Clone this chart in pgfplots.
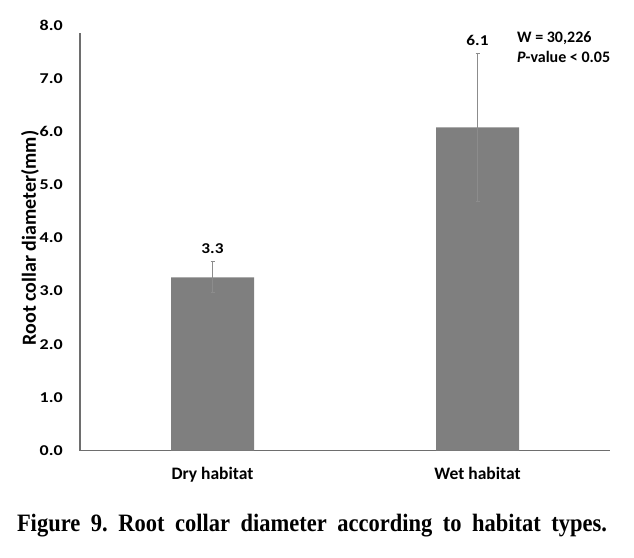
\documentclass[border=0pt]{standalone}
\usepackage{pgfplots}
\pgfplotsset{compat=1.18}
\usepackage{fontspec}
\setmainfont{Carlito}
\newfontfamily\capfont[FakeStretch=0.9]{Liberation Serif}
\definecolor{barc}{HTML}{7F7F7F}
\definecolor{axc}{HTML}{6E6E6E}
\definecolor{errc}{HTML}{8C8C8C}
\begin{document}
\frenchspacing
\begin{tikzpicture}[x=1pt,y=1pt]
\path[use as bounding box] (0,0) rectangle (634,557);
\begin{axis}[
  at={(80pt,106.5pt)}, anchor=south west,
  scale only axis, width=530pt, height=425pt,
  xmin=-0.5, xmax=1.5, ymin=0, ymax=8,
  axis x line=bottom, axis y line=left,
  x axis line style={-, axc, line width=1.6pt},
  y axis line style={draw=none},
  xtick={0,1}, xticklabels={Dry habitat, Wet habitat},
  ytick={0,1,...,8},
  yticklabel={\scalebox{1.2}[1]{\pgfmathprintnumber[fixed,fixed zerofill,precision=1]{\tick}}},
  /pgf/number format/assume math mode=true,
  major tick length=0pt,
  yticklabel style={font=\fontsize{15}{16}\selectfont\bfseries, black, anchor=east, inner sep=0pt, xshift=-17pt},
  xticklabel style={font=\fontsize{17.5}{19}\selectfont\bfseries, black, anchor=base, inner sep=0pt, yshift=-29pt},
  ylabel={Root collar diameter(mm)},
  ylabel style={font=\fontsize{20}{22}\selectfont\bfseries, at={(axis description cs:0,0.5)}, anchor=center, yshift=50pt},
  clip=false,
]
\draw[axc, line width=1.6pt] (axis cs:-0.5,0) -- (axis cs:-0.5,7.86);
\addplot[ybar, bar width=83pt, fill=barc, draw=none,
  error bars/.cd, y dir=both, y explicit,
  error bar style={errc, line width=1.1pt},
  error mark options={rotate=90, mark size=2pt, errc, line width=1.1pt}]
  coordinates {(0,3.26) +- (0,0.29) (1,6.08) +- (0,1.40)};
\node[anchor=base, inner sep=0pt, font=\fontsize{15}{16}\selectfont\bfseries, yshift=8.5pt] at (axis cs:0,3.55) {\scalebox{1.15}[1]{3.3}};
\node[anchor=base, inner sep=0pt, font=\fontsize{15}{16}\selectfont\bfseries, yshift=7.7pt] at (axis cs:1,7.48) {\scalebox{1.15}[1]{6.1}};
\node[anchor=base west, font=\fontsize{16}{18}\selectfont\bfseries, inner sep=0pt] at (axis cs:1.149,7.68) {W = 30,226};
\node[anchor=base west, font=\fontsize{16}{18}\selectfont\bfseries, inner sep=0pt] at (axis cs:1.149,7.30) {\textit{P}-value < 0.05};
\end{axis}
\node[font=\capfont\fontsize{25}{27}\selectfont\bfseries, inner sep=0pt, anchor=base] at (312,25.3) {\makebox[590pt][s]{Figure 9. Root collar diameter according to habitat types.}};
\end{tikzpicture}
\end{document}
